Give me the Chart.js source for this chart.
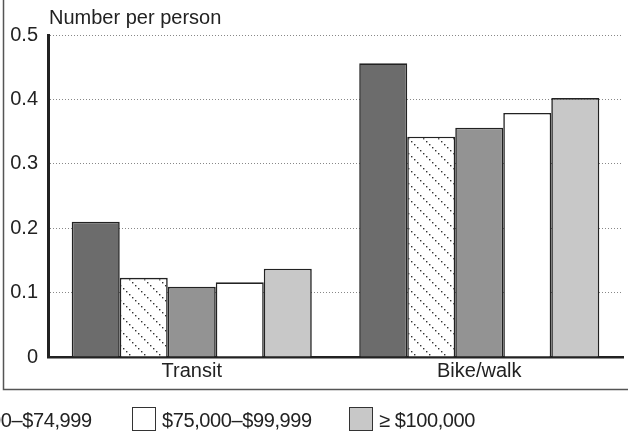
<!DOCTYPE html>
<html>
<head>
<meta charset="utf-8">
<script src="https://cdn.jsdelivr.net/npm/chart.js@4"></script>
<style>
html,body{margin:0;padding:0;background:#fff;overflow:hidden;}
#wrap{position:relative;width:628px;height:439px;}
canvas{position:absolute;left:0;top:0;}
.leg{position:absolute;top:407px;height:24px;display:flex;align-items:center;font-family:"Liberation Sans Narrow","Liberation Sans",sans-serif;font-size:20px;letter-spacing:-0.4px;color:#222;white-space:nowrap;}
.leg .box{width:24px;height:24px;border:1.5px solid #333;margin-right:6px;box-sizing:border-box;}
.leg span{position:relative;top:1px;}
</style>
</head>
<body>
<div id="wrap">
<canvas id="c" width="628" height="439"></canvas>
<div id="legend"></div>
</div>
<script>
const categories = ['Transit', 'Bike/walk'];
const seriesLabels = ['< $25,000', '$25,000–$49,999', '$50,000–$74,999', '$75,000–$99,999', '≥ $100,000'];
const under25 = [0.210, 0.456];
const from25to50 = [0.123, 0.342];
const from50to75 = [0.109, 0.356];
const from75to100 = [0.116, 0.379];
const over100 = [0.137, 0.402];
const yTickLabels = ['0', '0.1', '0.2', '0.3', '0.4', '0.5'];
const yTitle = 'Number per person';

const FONT = '"Liberation Sans Narrow","Liberation Sans",sans-serif';

function hatch() {
  const s = 15;
  const cv = document.createElement('canvas');
  cv.width = s; cv.height = s;
  const g = cv.getContext('2d');
  g.fillStyle = '#fff'; g.fillRect(0, 0, s, s);
  g.fillStyle = '#333';
  for (let i = 0; i < s; i += 3) g.fillRect(i, i, 1.4, 1.4);
  return g.createPattern(cv, 'repeat');
}
const pat = hatch();
const fills = ['#6c6c6c', pat, '#939393', '#ffffff', '#c8c8c8'];
const seriesData = [under25, from25to50, from50to75, from75to100, over100];

const extras = {
  id: 'extras',
  afterDraw(chart) {
    const ctx = chart.ctx;
    ctx.save();
    ctx.strokeStyle = '#555';
    ctx.lineWidth = 1.5;
    ctx.beginPath();
    ctx.moveTo(3.5, 0); ctx.lineTo(3.5, 389.5); ctx.lineTo(628, 389.5);
    ctx.stroke();
    ctx.fillStyle = '#222';
    ctx.font = '20px ' + FONT;
    ctx.textBaseline = 'alphabetic';
    ctx.fillText(yTitle, 49, 24);
    ctx.restore();
  }
};

new Chart(document.getElementById('c'), {
  type: 'bar',
  data: {
    labels: categories,
    datasets: seriesData.map((d, i) => ({
      label: seriesLabels[i],
      data: d,
      backgroundColor: fills[i],
      borderColor: '#222',
      borderWidth: 1.6,
      borderSkipped: 'bottom',
      barPercentage: 1,
      categoryPercentage: 0.835
    }))
  },
  options: {
    responsive: false,
    animation: false,
    layout: { padding: { top: 35, right: 5, bottom: 50, left: 0 } },
    plugins: { legend: { display: false }, tooltip: { enabled: false }, title: { display: false } },
    scales: {
      x: {
        grid: { display: false, drawTicks: false },
        border: { display: true, color: '#222', width: 2.5 },
        ticks: { color: '#222', font: { family: FONT, size: 20 }, padding: 2 },
        afterFit(s) { s.height = 32; }
      },
      y: {
        min: 0, max: 0.5,
        ticks: {
          stepSize: 0.1, color: '#222', padding: 10,
          font: { family: FONT, size: 20 },
          callback: (v, i) => yTickLabels[i]
        },
        grid: {
          drawTicks: false, color: (c) => c.tick.value === 0 ? 'rgba(0,0,0,0)' : '#888',
          lineWidth: 1
        },
        border: { display: true, color: '#222', width: 3, dash: [1, 2], dashOffset: 0 },
        afterFit(s) { s.width = 48; }
      }
    }
  },
  plugins: [extras]
});

// HTML legend (cropped at left, as in the reference)
const legPos = [
  { i: 2, left: -88 },
  { i: 3, left: 132 },
  { i: 4, left: 349 }
];
const legEl = document.getElementById('legend');
legPos.forEach(p => {
  const d = document.createElement('div');
  d.className = 'leg';
  d.style.left = p.left + 'px';
  const b = document.createElement('div');
  b.className = 'box';
  b.style.background = typeof fills[p.i] === 'string' ? fills[p.i] : '#fff';
  const t = document.createElement('span');
  t.textContent = seriesLabels[p.i];
  d.appendChild(b); d.appendChild(t);
  legEl.appendChild(d);
});
</script>
</body>
</html>
